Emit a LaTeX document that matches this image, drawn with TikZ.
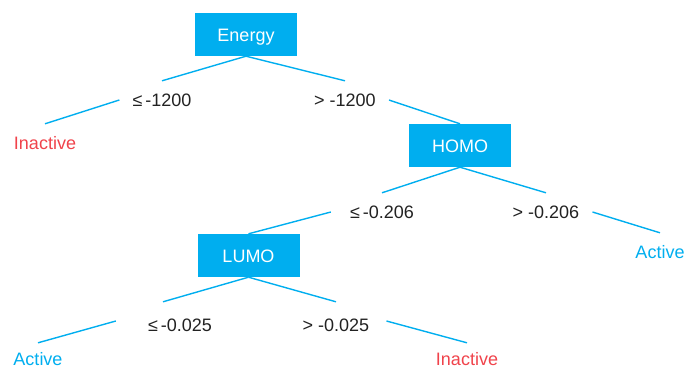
\documentclass[tikz,border=0pt]{standalone}
\usepackage{fontspec}
\setmainfont{Liberation Sans}
\definecolor{treeblue}{HTML}{00AEEF}
\definecolor{leafred}{HTML}{F0434B}
\definecolor{labelgray}{HTML}{222222}
\begin{document}
\begin{tikzpicture}[x=1pt,y=-1pt,
  every node/.style={font=\fontsize{18}{21}\selectfont, text height=13pt, text depth=0pt},
  splitbox/.style={fill=treeblue, text=white, minimum width=102pt, minimum height=43pt, inner sep=0pt},
  cond/.style={text=labelgray, inner xsep=13pt, inner ysep=0pt, minimum height=38pt},
  leafin/.style={text=leafred, inner xsep=2pt, inner ysep=0pt, minimum height=38pt},
  leafact/.style={text=treeblue, inner xsep=2pt, inner ysep=0pt, minimum height=38pt},
  edge/.style={draw=treeblue, line width=1.4pt}]
\useasboundingbox (0,0) rectangle (686,370);

% split nodes
\node[splitbox] (energy) at (246,34.5) {Energy};
\node[splitbox] (homo)   at (460,145.5) {HOMO};
\node[splitbox] (lumo)   at (248.5,255.5) {LUMO};

% branch conditions
\node[cond] (le1) at (162,100) {≤\,-1200};
\node[cond] (gt1) at (345,100) {> -1200};
\node[cond] (le2) at (382,212) {≤\,-0.206};
\node[cond] (gt2) at (546,212) {> -0.206};
\node[cond] (le3) at (180,325) {≤\,-0.025};
\node[cond] (gt3) at (336,325) {> -0.025};

% leaves
\node[leafin]  (in1)  at (45,143)  {Inactive};
\node[leafact] (act1) at (660,252) {Active};
\node[leafact] (act2) at (38,359)  {Active};
\node[leafin]  (in2)  at (467,359) {Inactive};

% connectors
\draw[edge] (energy.south) -- (le1.north);
\draw[edge] (energy.south) -- (gt1.north);
\draw[edge] (le1.west) -- (in1.north);
\draw[edge] (gt1.east) -- (homo.north);
\draw[edge] (homo.south) -- (le2.north);
\draw[edge] (homo.south) -- (gt2.north);
\draw[edge] ([xshift=-6pt]le2.west) -- (lumo.north);
\draw[edge] (gt2.east) -- (act1.north);
\draw[edge] (lumo.south) -- ([xshift=-17pt,yshift=4pt]le3.north);
\draw[edge] (lumo.south) -- ([yshift=4pt]gt3.north);
\draw[edge] ([xshift=-19pt,yshift=4pt]le3.west) -- ([yshift=-3pt]act2.north);
\draw[edge] ([xshift=4pt,yshift=4pt]gt3.east) -- ([yshift=-3pt]in2.north);
\end{tikzpicture}
\end{document}
